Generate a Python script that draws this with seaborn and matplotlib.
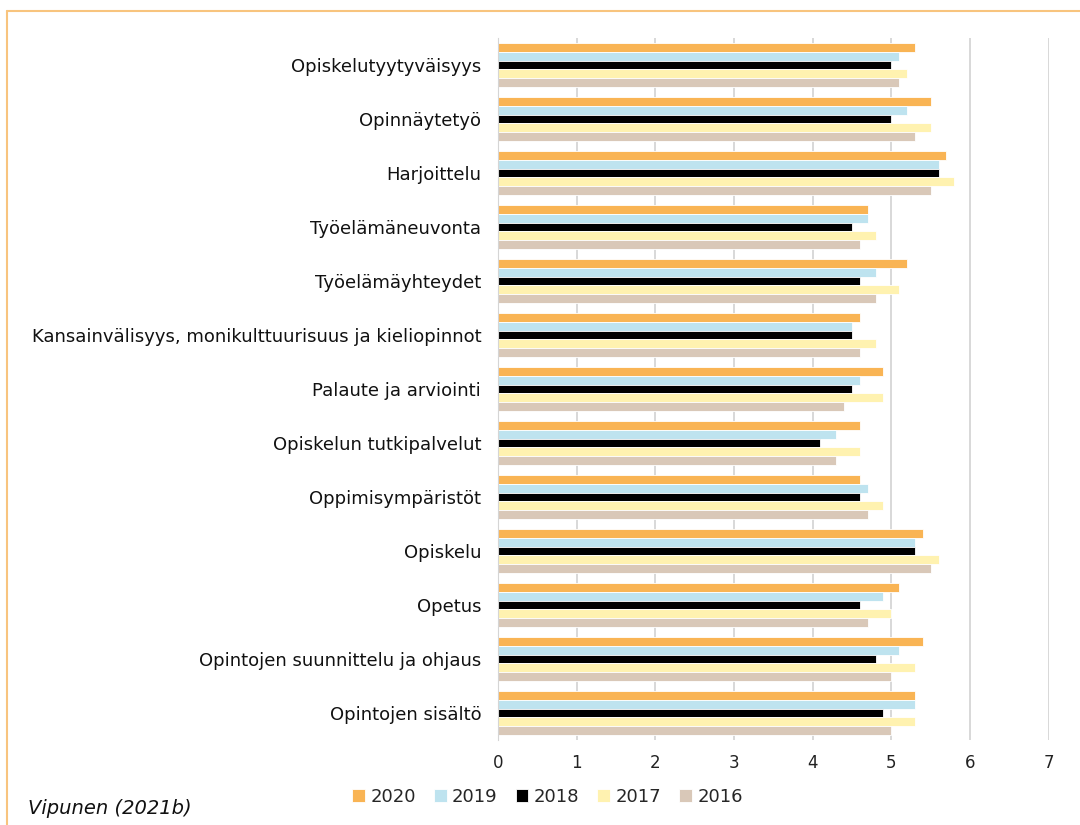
import matplotlib
matplotlib.use("Agg")
import matplotlib.pyplot as plt
import seaborn as sns
import pandas as pd
from matplotlib.lines import Line2D

categories = [
    "Opiskelutyytyväisyys",
    "Opinnäytetyö",
    "Harjoittelu",
    "Työelämäneuvonta",
    "Työelämäyhteydet",
    "Kansainvälisyys, monikulttuurisuus ja kieliopinnot",
    "Palaute ja arviointi",
    "Opiskelun tutkipalvelut",
    "Oppimisympäristöt",
    "Opiskelu",
    "Opetus",
    "Opintojen suunnittelu ja ohjaus",
    "Opintojen sisältö",
]
years = ["2020", "2019", "2018", "2017", "2016"]

v2020 = [5.3, 5.5, 5.7, 4.7, 5.2, 4.6, 4.9, 4.6, 4.6, 5.4, 5.1, 5.4, 5.3]
v2019 = [5.1, 5.2, 5.6, 4.7, 4.8, 4.5, 4.6, 4.3, 4.7, 5.3, 4.9, 5.1, 5.3]
v2018 = [5.0, 5.0, 5.6, 4.5, 4.6, 4.5, 4.5, 4.1, 4.6, 5.3, 4.6, 4.8, 4.9]
v2017 = [5.2, 5.5, 5.8, 4.8, 5.1, 4.8, 4.9, 4.6, 4.9, 5.6, 5.0, 5.3, 5.3]
v2016 = [5.1, 5.3, 5.5, 4.6, 4.8, 4.6, 4.4, 4.3, 4.7, 5.5, 4.7, 5.0, 5.0]

colors = ["#F9B454", "#BEE3EF", "#000000", "#FFF2B0", "#D9C8B8"]

df = pd.DataFrame({
    "Kategoria": categories * 5,
    "Vuosi": [y for y in years for _ in categories],
    "Arvo": v2020 + v2019 + v2018 + v2017 + v2016,
})

sns.set_style("white")
plt.rcParams["font.family"] = ["DejaVu Sans"]

fig = plt.figure(figsize=(10.8, 8.25), dpi=100)
ax = fig.add_axes([0.461, 0.103, 0.510, 0.851])

sns.barplot(data=df, y="Kategoria", x="Arvo", hue="Vuosi", order=categories,
            hue_order=years, palette=colors, orient="h", width=0.8,
            saturation=1, edgecolor="white", linewidth=0.6, ax=ax, legend=True)

ax.set_xlim(0, 7)
ax.set_xticks(range(0, 8))
for x in range(1, 8):
    ax.axvline(x, color="#D5D5D5", linewidth=1.3, zorder=0)
for s in ["top", "right", "bottom"]:
    ax.spines[s].set_visible(False)
ax.spines["left"].set_color("#D5D5D5")
ax.set_xlabel("")
ax.set_ylabel("")
ax.tick_params(axis="x", labelsize=12, colors="#222222", pad=10, length=0)
ax.tick_params(axis="y", labelsize=13, colors="#111111", pad=12, length=0)

handles, labels = ax.get_legend_handles_labels()
ax.legend_.remove()
fig.legend(handles, labels, loc="center", bbox_to_anchor=(0.507, 0.034), ncol=5,
           frameon=False, fontsize=13, handlelength=0.7, handleheight=0.7,
           handletextpad=0.3, columnspacing=1.0)

fig.text(0.026, 0.02, "Vipunen (2021b)", fontsize=14, style="italic",
         color="#111111", ha="left", va="center")

# thin orange frame lines along the top and left
fig.add_artist(Line2D([0.0065, 1.0], [0.987, 0.987], color="#F8C47E", lw=1.5,
                      transform=fig.transFigure))
fig.add_artist(Line2D([0.0065, 0.0065], [0.0, 0.987], color="#F8C47E", lw=1.5,
                      transform=fig.transFigure))

fig.savefig("out.png", dpi=100)
